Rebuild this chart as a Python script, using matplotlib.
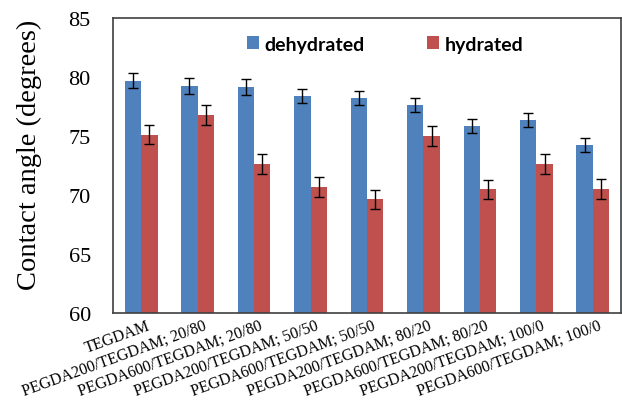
import matplotlib
matplotlib.use("Agg")
import matplotlib.pyplot as plt
import matplotlib.transforms as mtrans
import numpy as np

categories = ["TEGDAM", "PEGDA200/TEGDAM; 20/80", "PEGDA600/TEGDAM; 20/80",
              "PEGDA200/TEGDAM; 50/50", "PEGDA600/TEGDAM; 50/50",
              "PEGDA200/TEGDAM; 80/20", "PEGDA600/TEGDAM; 80/20",
              "PEGDA200/TEGDAM; 100/0", "PEGDA600/TEGDAM; 100/0"]
dehydrated = [79.7, 79.25, 79.15, 78.4, 78.2, 77.65, 75.85, 76.35, 74.25]
dehydrated_err = [0.6, 0.65, 0.65, 0.6, 0.6, 0.6, 0.6, 0.6, 0.6]
hydrated = [75.1, 76.8, 72.65, 70.7, 69.65, 75.0, 70.5, 72.65, 70.5]
hydrated_err = [0.8, 0.85, 0.85, 0.85, 0.8, 0.85, 0.8, 0.85, 0.85]
yticks = [60, 65, 70, 75, 80, 85]

blue = "#4F81BD"
red = "#C0504D"

fig = plt.figure(figsize=(6.22, 4.02), dpi=100)
ax = fig.add_axes([113/622, 1-314/402, 508/622, 295/402])

x = np.arange(len(categories))
w = 0.29
ax.bar(x - w/2, dehydrated, w, color=blue, label="dehydrated", zorder=2)
ax.bar(x + w/2, hydrated, w, color=red, label="hydrated", zorder=2)
ax.errorbar(x - w/2, dehydrated, yerr=dehydrated_err, fmt="none", ecolor="black",
            elinewidth=1, capsize=3.4, capthick=1, zorder=3)
ax.errorbar(x + w/2, hydrated, yerr=hydrated_err, fmt="none", ecolor="black",
            elinewidth=1, capsize=3.4, capthick=1, zorder=3)

ax.set_xlim(-0.5, len(categories) - 0.5)
ax.set_ylim(60, 85)
ax.set_yticks(yticks)
ax.set_yticklabels([str(v) for v in yticks], fontfamily="Liberation Serif", fontsize=16)
ax.tick_params(axis="y", length=0, pad=16)
ax.set_xticks(x)
ax.set_xticklabels(categories, rotation=20, ha="right", rotation_mode="anchor",
                   fontfamily="Liberation Serif", fontsize=11.5)
ax.tick_params(axis="x", length=0, pad=3)
for lbl in ax.get_xticklabels():
    lbl.set_transform(lbl.get_transform() + mtrans.ScaledTranslation(5/100, 0, fig.dpi_scale_trans))

for s in ax.spines.values():
    s.set_color("#404040")
    s.set_linewidth(1.2)

ax.set_ylabel("Contact angle (degrees)", fontfamily="Liberation Serif", fontsize=20.5)
ax.yaxis.set_label_coords(-0.14, 0.54)

leg = ax.legend(loc="center left", bbox_to_anchor=(247/622, 1-45/402),
                bbox_transform=fig.transFigure, ncol=2, frameon=False,
                prop={"family": "Lato", "weight": "bold", "size": 14},
                handlelength=0.6, handleheight=0.6, handletextpad=0.3,
                columnspacing=3.2, borderpad=0, borderaxespad=0)

fig.savefig("out.png", dpi=100)
